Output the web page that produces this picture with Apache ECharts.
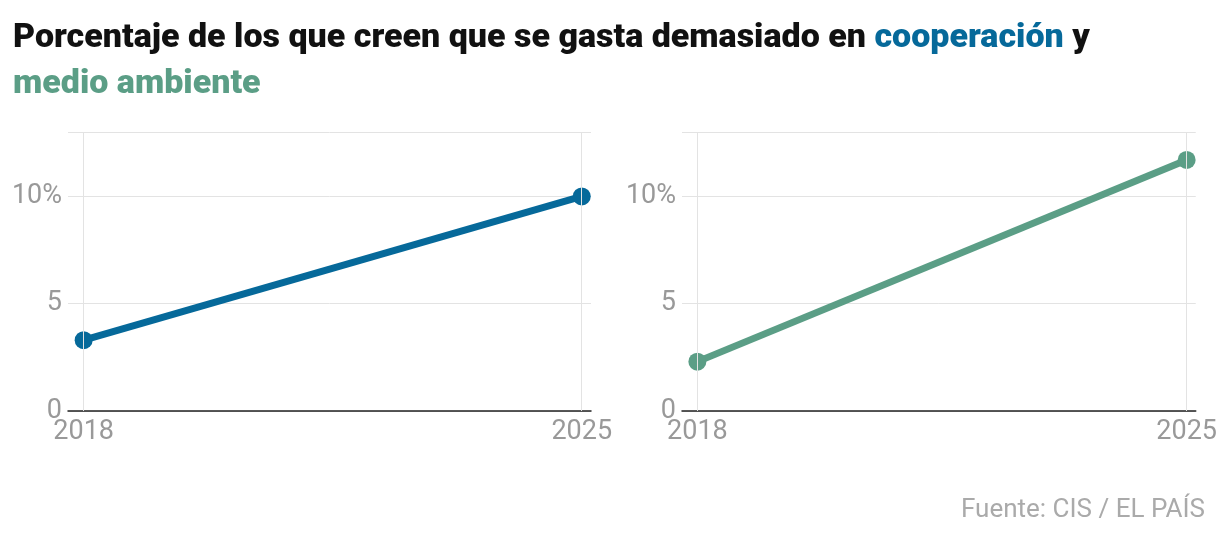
<!DOCTYPE html><html><head><meta charset="utf-8">
<script src="https://cdn.jsdelivr.net/npm/echarts@6/dist/echarts.min.js"></script>
<style>body{margin:0}#c{width:1220px;height:538px}</style></head><body><div id="c"></div>
<script>
const years=[2018,2025];
const cooperacion=[3.3,10.0];
const medioAmbiente=[2.3,11.7];
const yTicks=[0,5,10];
const colors=['#06699a','#5b9e86'];
const chart=echarts.init(document.getElementById('c'));
const lefts=[68,682];
const grids=lefts.map(l=>({left:l,top:132,width:523,height:279}));
const xAxes=grids.map((g,i)=>({gridIndex:i,type:'value',min:2017.78,max:2025.13,
 axisLine:{show:true,lineStyle:{color:'#222',width:1.5}},axisTick:{show:false},splitLine:{show:false},
 axisLabel:{customValues:years,color:'#999',fontSize:27,fontFamily:'Roboto',margin:8,formatter:v=>String(v)}}));
const yAxes=grids.map((g,i)=>({gridIndex:i,type:'value',min:0,max:13,interval:5,
 axisLine:{show:false},axisTick:{show:false},
 splitLine:{lineStyle:{color:'#e3e3e3'}},
 axisLabel:{customValues:yTicks,color:'#999',fontSize:27,fontFamily:'Roboto',margin:6,align:'right',formatter:v=>v===10?'10%':String(v)}}));
const mk=(data,i)=>({type:'line',xAxisIndex:i,yAxisIndex:i,data:years.map((y,k)=>[y,data[k]]),
 symbol:'circle',symbolSize:18,lineStyle:{width:7,color:colors[i]},itemStyle:{color:colors[i]},z:3,
 markLine:{silent:true,symbol:'none',label:{show:false},lineStyle:{color:'#e3e3e3',type:'solid',width:1},
  data:years.map(y=>[{coord:[y,0]},{coord:[y,13]}])}});
const st=c=>({fontSize:34,fontWeight:900,color:c,fontFamily:'Roboto',lineHeight:46});
chart.setOption({animation:false,
 title:[{left:8,top:10,text:'{a|Porcentaje de los que creen que se gasta demasiado en }{b|cooperación}{a| y}\n{c|medio ambiente}',
  textStyle:{rich:{a:st('#111'),b:st(colors[0]),c:st(colors[1])}}},
  {right:10,top:492,text:'Fuente: CIS / EL PAÍS',textStyle:{fontSize:26,fontWeight:'normal',color:'#aaa',fontFamily:'Roboto'}}],
 grid:grids,xAxis:xAxes,yAxis:yAxes,
 series:[mk(cooperacion,0),mk(medioAmbiente,1)]});
</script></body></html>
